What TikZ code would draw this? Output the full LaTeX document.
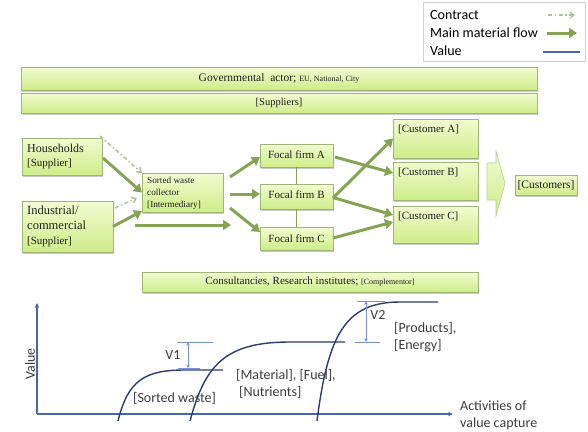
\documentclass[tikz,border=0pt]{standalone}
\usepackage{fontspec}
\setmainfont{Liberation Serif}
\newfontfamily\calib{Carlito}
\usetikzlibrary{arrows.meta,shadows}

\definecolor{boxtop}{RGB}{242,252,210}
\definecolor{boxbot}{RGB}{206,237,136}
\definecolor{boxedge}{RGB}{160,180,120}
\definecolor{flow}{RGB}{134,164,84}
\definecolor{contract}{RGB}{176,196,156}
\definecolor{curve}{RGB}{44,60,110}
\definecolor{axisblue}{RGB}{72,102,176}
\definecolor{tickblue}{RGB}{118,146,210}
\definecolor{txt}{RGB}{30,30,30}
\definecolor{gtxt}{RGB}{60,60,60}

\tikzset{
  gbox/.style={draw=boxedge, line width=0.6pt, top color=boxtop, bottom color=boxbot,
    drop shadow={shadow xshift=1.2pt, shadow yshift=-1.5pt, opacity=0.3, fill=black!70},
    inner sep=0pt, outer sep=0pt, anchor=north west, text=txt},
  flowarrow/.style={draw=flow, line width=3pt, -{Triangle[length=8pt,width=10pt]}},
  contractarrow/.style={draw=contract, line width=1.6pt, dash pattern=on 4pt off 2.5pt on 1.5pt off 2.5pt,
    -{Straight Barb[length=4pt,width=6pt]}},
  linkline/.style={draw=flow, line width=1.6pt},
  ser/.style={font=\fontsize{#1}{#1}\selectfont, text=txt, inner sep=0pt},
  gtext/.style={font=\calib\fontsize{14}{17}\selectfont, text=gtxt, inner sep=0pt, align=left},
  curveline/.style={draw=curve, line width=1.4pt},
  tickline/.style={draw=tickblue, line width=0.7pt},
  axisline/.style={draw=axisblue, line width=1.4pt, -{Stealth[length=5pt,width=4.5pt]}},
  vmark/.style={draw=tickblue, line width=0.7pt, {Stealth[length=3.5pt,width=3.5pt]}-{Stealth[length=3.5pt,width=3.5pt]}}
}

\begin{document}
\begin{tikzpicture}[x=1pt,y=-1pt]
\useasboundingbox (0,0) rectangle (588,431);

% ---------- legend ----------
\node[draw=black!18, line width=0.5pt, anchor=north west, minimum width=162pt, minimum height=59pt, inner sep=0pt] (legend) at (423,2) {};
\node[gtext, anchor=west, text=black] (lgC) at (430,15) {Contract};
\node[gtext, anchor=west, text=black] (lgM) at (430,33) {Main material flow};
\node[gtext, anchor=west, text=black] (lgV) at (430,51) {Value};
\coordinate (lcA) at (548,15); \coordinate (lcB) at (575,15);
\coordinate (lmA) at (547,33); \coordinate (lmB) at (577,33);
\coordinate (lvA) at (543,52); \coordinate (lvB) at (580,52);
\draw[contractarrow, line width=1.3pt] (lcA) -- (lcB);
\draw[flowarrow] (lmA) -- (lmB);
\draw[axisblue, line width=1.2pt] (lvA) -- (lvB);

% ---------- wide bars ----------
\node[gbox, minimum width=516pt, minimum height=23pt] (gov) at (21,67) {};
\node[ser=11.5] at (gov.center) {Governmental\ \ actor; {\fontsize{8}{8}\selectfont EU, National,\ City}};
\node[gbox, minimum width=516pt, minimum height=20pt] (sup) at (21,93) {};
\node[ser=10.5] at (sup.center) {[Suppliers]};

% ---------- suppliers ----------
\node[gbox, minimum width=80pt, minimum height=37pt] (hh) at (22,138) {};
\node[ser=12, anchor=west, align=left, font=\fontsize{12}{13.5}\selectfont] at ([xshift=5pt]hh.west)
  {Households\\{\fontsize{11}{11}\selectfont[Supplier]}};
\node[gbox, minimum width=91pt, minimum height=51pt] (ind) at (22,201) {};
\node[ser=12, anchor=west, align=left, font=\fontsize{12.5}{15}\selectfont] at ([xshift=5pt]ind.west)
  {Industrial/\\commercial\\{\fontsize{11}{11}\selectfont[Supplier]}};

% ---------- intermediary ----------
\node[gbox, minimum width=81pt, minimum height=39pt] (col) at (142,173) {};
\node[ser=9, anchor=west, align=left, font=\fontsize{9.2}{12}\selectfont] at ([xshift=5pt,yshift=-1pt]col.west)
  {Sorted waste\\collector\\{}[Intermediary]};

% ---------- focal firms ----------
\node[gbox, minimum width=73pt, minimum height=23pt] (fA) at (260,144) {};
\node[ser=11] at ([yshift=1pt]fA.center) {Focal firm A};
\node[gbox, minimum width=73pt, minimum height=25pt] (fB) at (260,184) {};
\node[ser=11] at ([yshift=2pt]fB.center) {Focal firm B};
\node[gbox, minimum width=73pt, minimum height=23pt] (fC) at (260,227) {};
\node[ser=11] at (fC.center) {Focal firm C};

% ---------- customers ----------
\node[gbox, minimum width=85pt, minimum height=39pt] (cA) at (393,119) {};
\node[ser=11, anchor=north west] at ([xshift=5pt,yshift=-6pt]cA.north west) {[Customer A]};
\node[gbox, minimum width=85pt, minimum height=38pt] (cB) at (393,162) {};
\node[ser=11, anchor=north west] at ([xshift=5pt,yshift=-6pt]cB.north west) {[Customer B]};
\node[gbox, minimum width=85pt, minimum height=37pt] (cC) at (393,206) {};
\node[ser=11, anchor=north west] at ([xshift=5pt,yshift=-6pt]cC.north west) {[Customer C]};

\node[gbox, minimum width=62pt, minimum height=20pt] (cus) at (515,175) {};
\node[ser=11.5] at (cus.center) {[Customers]};

% big outline arrow towards the customer group
\path[draw=boxedge!70, line width=0.6pt, top color=boxtop, bottom color=boxbot]
  (487,163) -- (496,163) -- (496,151) -- (505,183.5) -- (496,216) -- (496,200) -- (487,200) -- cycle;

% ---------- complementors ----------
\node[gbox, minimum width=336pt, minimum height=20pt] (con) at (142,272) {};
\node[ser=11] at (con.center) {Consultancies, Research institutes; {\fontsize{8}{8}\selectfont[Complementor]}};

% ---------- contracts ----------
\draw[contractarrow] ([xshift=-2pt,yshift=2pt]hh.north east) -- (col.north west);
\draw[contractarrow] ([xshift=2pt,yshift=-7pt]ind.north east) -- ([xshift=-5pt,yshift=-5.5pt]col.west);

% ---------- material flows ----------
\draw[flowarrow] ([xshift=1pt,yshift=-1.5pt]hh.east) -- (col.west);
\draw[flowarrow] (ind.east) -- ([yshift=1pt]col.south west);
\coordinate (byA) at ([xshift=-7pt,yshift=-13pt]col.south west);
\coordinate (byB) at ([xshift=89pt,yshift=-13pt]col.south west);
\draw[flowarrow] (byA) -- (byB);
\draw[flowarrow] ([xshift=7pt,yshift=15.5pt]col.east) -- ([yshift=-1.5pt]fA.west);
\draw[flowarrow] ([xshift=7pt,yshift=-1.5pt]col.east) -- ([yshift=2.5pt]fB.west);
\draw[flowarrow] ([xshift=7pt,yshift=-15.5pt]col.east) -- ([yshift=6.5pt]fC.west);

\draw[linkline] (fA.south) -- (fB.north);
\draw[linkline] (fB.south) -- (fC.north);

\draw[flowarrow] ([xshift=2pt,yshift=-1.5pt]fA.east) -- ([yshift=8pt]cB.west);
\draw[flowarrow] ([yshift=-1.5pt]fB.east) -- (cA.west);
\draw[flowarrow] ([yshift=-1pt]fB.east) -- ([yshift=9.5pt]cC.west);
\draw[flowarrow] ([yshift=0.5pt]fC.east) -- ([yshift=2.5pt]cC.west);

% ---------- value curves ----------
\draw[axisline] (37,414) -- (37,303);
\draw[axisline] (37,414) -- (453,414);
\node[gtext, rotate=90] (vlab) at (30,364) {Value};
\node[gtext, anchor=west] (actlab) at (460,415.5) {Activities of\\value capture};

\draw[curveline] (118,421) .. controls (128,380) and (145,370) .. (185,370) -- (223,370);
\draw[curveline] (190,421) .. controls (205,365) and (225,342) .. (290,342) -- (345,342);
\draw[curveline] (317,421) .. controls (328,335) and (345,302) .. (400,302) -- (438,302);

% value steps
\draw[tickline] (177,342) -- (213,342);
\draw[tickline] (178,368) -- (200,368);
\draw[vmark] (188,342) -- (188,368);
\node[gtext] at (173,355) {V1};

\draw[tickline] (357,301) -- (385,301);
\draw[tickline] (355,342) -- (380,342);
\draw[vmark] (366,301) -- (366,342);
\node[gtext] at (378,315) {V2};

\node[gtext, anchor=west] at (133,398) {[Sorted waste]};
\node[gtext, anchor=west] at (236,383.5) {[Material], [Fuel],\\\hspace{3pt}[Nutrients]};
\node[gtext, anchor=west] at (394,337) {[Products],\\{}[Energy]};
\end{tikzpicture}
\end{document}
